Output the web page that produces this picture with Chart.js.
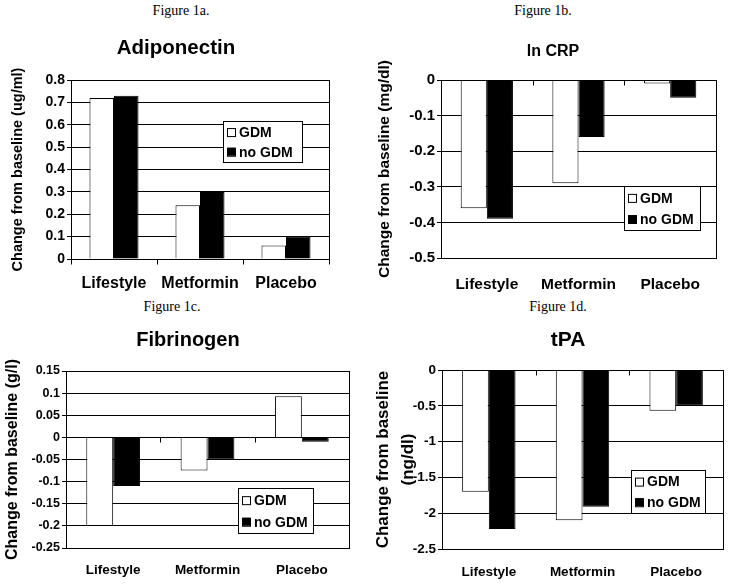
<!DOCTYPE html>
<html>
<head>
<meta charset="utf-8">
<script src="https://cdn.jsdelivr.net/npm/chart.js@4/dist/chart.umd.min.js"></script>
<style>
  body { margin: 0; background: #fff; width: 729px; height: 585px; position: relative; overflow: hidden; }
  .cap { position: absolute; font: 14px "Liberation Serif", "Times New Roman", serif; color: #000; transform: translateX(-50%); white-space: nowrap; }
  .box { position: absolute; }
</style>
</head>
<body>
<div class="cap" style="left:181px;top:3px">Figure 1a.</div>
<div class="cap" style="left:543px;top:3px">Figure 1b.</div>
<div class="cap" style="left:172px;top:299px">Figure 1c.</div>
<div class="cap" style="left:558px;top:299px">Figure 1d.</div>

<div class="box" style="left:0;top:20px;width:362px;height:280px"><canvas id="c1"></canvas></div>
<div class="box" style="left:365px;top:20px;width:364px;height:280px"><canvas id="c2"></canvas></div>
<div class="box" style="left:0;top:318px;width:362px;height:267px"><canvas id="c3"></canvas></div>
<div class="box" style="left:365px;top:318px;width:364px;height:267px"><canvas id="c4"></canvas></div>

<script>
const groups = ["Lifestyle", "Metformin", "Placebo"];
const seriesNames = ["GDM", "no GDM"];

const adipoGdm = [0.72, 0.24, 0.06];
const adipoNoGdm = [0.73, 0.30, 0.10];
const adipoTicks = [0, 0.1, 0.2, 0.3, 0.4, 0.5, 0.6, 0.7, 0.8];

const crpGdm = [-0.36, -0.29, -0.01];
const crpNoGdm = [-0.39, -0.16, -0.05];
const crpTicks = [-0.5, -0.4, -0.3, -0.2, -0.1, 0];

const fibGdm = [-0.20, -0.075, 0.093];
const fibNoGdm = [-0.11, -0.05, -0.01];
const fibTicks = [-0.25, -0.2, -0.15, -0.1, -0.05, 0, 0.05, 0.1, 0.15];

const tpaGdm = [-1.70, -2.10, -0.57];
const tpaNoGdm = [-2.22, -1.91, -0.50];
const tpaTicks = [-2.5, -2, -1.5, -1, -0.5, 0];

const FONT = "'Liberation Sans', Arial, sans-serif";

// box round the plot + small marks at group borders on the zero line + legend inside the plot
const framePlugin = {
  id: "frame",
  afterDatasetsDraw(chart, args, opts) {
    const { ctx, chartArea: a, scales: { x, y } } = chart;
    ctx.save();
    ctx.strokeStyle = "#000";
    ctx.lineWidth = 1;
    ctx.strokeRect(Math.round(a.left) + 0.5, Math.round(a.top) + 0.5,
      Math.round(a.right - a.left), Math.round(a.bottom - a.top));
    const y0 = Math.round(y.getPixelForValue(0)) + 0.5;
    ctx.beginPath();
    for (let i = 0; i <= groups.length; i++) {
      const px = Math.round(x.getPixelForValue(i - 0.5)) + 0.5;
      ctx.moveTo(px, y0);
      ctx.lineTo(px, y0 + 5);
    }
    ctx.stroke();

    const b = opts.box;
    ctx.fillStyle = "#fff";
    ctx.fillRect(b.x, b.y, b.w, b.h);
    ctx.strokeRect(b.x + 0.5, b.y + 0.5, b.w, b.h);
    ctx.font = "bold 14px " + FONT;
    ctx.textBaseline = "middle";
    chart.data.datasets.forEach((ds, i) => {
      const cy = b.y + b.h * (i === 0 ? 0.27 : 0.75);
      ctx.fillStyle = ds.backgroundColor;
      ctx.fillRect(b.x + 4.5, cy - 4, 8, 8);
      ctx.strokeStyle = "#000";
      ctx.strokeRect(b.x + 4.5, cy - 3.5, 8, 8);
      ctx.fillStyle = "#000";
      ctx.fillText(ds.label, b.x + 16, cy + 1);
    });
    ctx.restore();
  }
};

function makeChart(id, p) {
  return new Chart(document.getElementById(id), {
    type: "bar",
    data: {
      labels: groups,
      datasets: [
        { label: seriesNames[0], data: p.gdm, backgroundColor: "#ffffff", borderColor: "#000", borderWidth: 1 },
        { label: seriesNames[1], data: p.noGdm, backgroundColor: "#000000", borderColor: "#000", borderWidth: 1 },
      ],
    },
    options: {
      responsive: true,
      maintainAspectRatio: false,
      animation: false,
      datasets: { bar: { categoryPercentage: 0.57, barPercentage: 1 } },
      layout: { padding: { left: p.padLeft, right: p.padRight, top: 0, bottom: 0 } },
      plugins: {
        legend: { display: false },
        tooltip: { enabled: false },
        title: {
          display: true,
          text: p.title,
          color: "#000",
          font: { family: FONT, size: p.titleSize, weight: "bold" },
          padding: { top: p.titleTop, bottom: p.titleBottom },
        },
        frame: { box: p.legend },
      },
      scales: {
        x: {
          afterFit: (s) => { s.height = p.xHeight; },
          grid: { display: false, drawTicks: false },
          border: { display: false },
          ticks: {
            color: "#000",
            padding: p.xPad,
            autoSkip: false,
            maxRotation: 0,
            font: { family: FONT, size: p.xSize, weight: "bold" },
          },
        },
        y: {
          min: p.ticks[0],
          max: p.ticks[p.ticks.length - 1],
          afterFit: (s) => { s.width = p.yWidth; },
          afterBuildTicks: (s) => { s.ticks = p.ticks.map((v) => ({ value: v })); },
          grid: { color: "#000", lineWidth: 1, tickLength: 4 },
          border: { display: true, color: "#000", width: 1 },
          ticks: {
            color: "#000",
            padding: 2,
            font: { family: FONT, size: p.ySize, weight: "bold" },
            callback: (v) => String(Math.round(v * 1000) / 1000),
          },
          title: {
            display: true,
            text: p.yTitle,
            color: "#000",
            font: { family: FONT, size: p.yTitleSize, weight: "bold", lineHeight: p.yTitleLh || 1.2 },
            padding: { top: p.yTitleTop, bottom: 0 },
          },
        },
      },
    },
    plugins: [framePlugin],
  });
}

makeChart("c1", {
  gdm: adipoGdm, noGdm: adipoNoGdm, ticks: adipoTicks,
  title: "Adiponectin", titleSize: 20.5, titleTop: 15.7, titleBottom: 19.7,
  yTitle: "Change from baseline (ug/ml)", yTitleSize: 14.5, yTitleTop: -13.7,
  padLeft: 23, padRight: 33, yWidth: 48, xHeight: 41, xPad: 15.4, xSize: 16, ySize: 14,
  legend: { x: 223, y: 101, w: 79, h: 41 },
});
makeChart("c2", {
  gdm: crpGdm, noGdm: crpNoGdm, ticks: crpTicks,
  title: "ln CRP", titleSize: 16, titleTop: 22.1, titleBottom: 18.7,
  yTitle: "Change from baseline (mg/dl)", yTitleSize: 15.5, yTitleTop: -14.3,
  padLeft: 25, padRight: 13, yWidth: 51, xHeight: 42, xPad: 17.7, xSize: 15.5, ySize: 15,
  legend: { x: 259, y: 166, w: 76, h: 44 },
});
makeChart("c3", {
  gdm: fibGdm, noGdm: fibNoGdm, ticks: fibTicks,
  title: "Fibrinogen", titleSize: 20, titleTop: 10, titleBottom: 19,
  yTitle: "Change from baseline (g/l)", yTitleSize: 16, yTitleTop: -23.6,
  padLeft: 27, padRight: 13, yWidth: 39, xHeight: 37, xPad: 13.9, xSize: 13.5, ySize: 12.5,
  legend: { x: 238, y: 170, w: 75, h: 45 },
});
makeChart("c4", {
  gdm: tpaGdm, noGdm: tpaNoGdm, ticks: tpaTicks,
  title: "tPA", titleSize: 21, titleTop: 9.4, titleBottom: 17.4,
  yTitle: ["Change from baseline", "(ng/dl)"], yTitleSize: 17, yTitleLh: 1.47, yTitleTop: -42.5,
  padLeft: 48, padRight: 6, yWidth: 29, xHeight: 36, xPad: 14.9, xSize: 13.5, ySize: 13.5,
  legend: { x: 266, y: 152, w: 74, h: 43 },
});
</script>
</body>
</html>
